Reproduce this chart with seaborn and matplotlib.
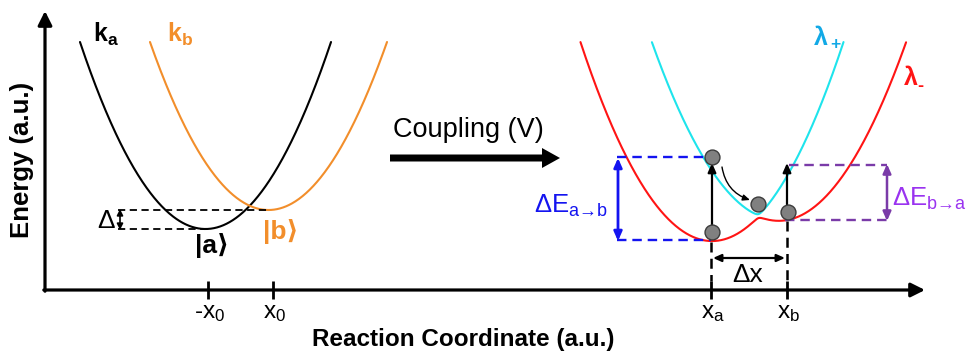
import numpy as np
import pandas as pd
import matplotlib
matplotlib.use("Agg")
import matplotlib.pyplot as plt
import seaborn as sns

# ---------------- data (canvas units, y grows downward = lower energy) ----------------
# left panel: diabatic parabolas k_a and k_b  (centre x, minimum y, curvature)
left_names = ["k_a", "k_b"]
left_centres = [205.5, 268.5]
left_minima = [229.0, 210.0]
left_curv = [0.01187, 0.01196]

# right panel: diabatic parabolas used to build the coupled curves lambda-/lambda+
right_centres = [712.0, 779.0]
right_minima = [241.0, 220.7]
right_curv = [0.0115, 0.01105]
coupling_V = [2.0]
curve_top = [42.0]

# tick positions and labels on the reaction coordinate
tick_pos = [208, 273, 711, 787]
tick_labels = ["-$\\mathregular{x_0}$", "$\\mathregular{x_0}$",
               "$\\mathregular{x_a}$", "$\\mathregular{x_b}$"]

# grey population dots
dot_x = [712, 712, 758, 788]
dot_y = [232, 157, 204, 212]

# ---------------- style ----------------
sns.set_theme(style="white")
plt.rcParams["font.family"] = ["Liberation Sans", "DejaVu Sans"]
plt.rcParams["text.color"] = "black"
plt.rcParams["mathtext.fontset"] = "custom"
plt.rcParams["mathtext.rm"] = "Liberation Sans"
plt.rcParams["mathtext.it"] = "Liberation Sans:italic"
plt.rcParams["mathtext.bf"] = "Liberation Sans:bold"

ORANGE = "#F28E2B"
CYAN = "#1EE4EC"
CYAN_TXT = "#12A9E6"
RED = "#FF1414"
BLUE = "#1414F0"
PURPLE = "#7A3BA8"
PURPLE_TXT = "#9A33F0"

fig = plt.figure(figsize=(9.67, 3.52), dpi=100)
ax = fig.add_axes([0, 0, 1, 1])
ax.set_xlim(0, 967)
ax.set_ylim(352, 0)
ax.axis("off")

top = curve_top[0]

# ---------------- left panel parabolas ----------------
frames = []
for name, c, m, k in zip(left_names, left_centres, left_minima, left_curv):
    half = np.sqrt((m - top) / k)
    xs = np.linspace(c - half, c + half, 400)
    frames.append(pd.DataFrame({"x": xs, "y": m - k * (xs - c) ** 2, "curve": name}))

# ---------------- right panel coupled curves ----------------
xg = np.linspace(560, 930, 3000)
ya = right_minima[0] - right_curv[0] * (xg - right_centres[0]) ** 2
yb = right_minima[1] - right_curv[1] * (xg - right_centres[1]) ** 2
avg = (ya + yb) / 2
root = np.sqrt(((ya - yb) / 2) ** 2 + coupling_V[0] ** 2)
lam_minus = avg + root   # lower energy (larger canvas y)
lam_plus = avg - root
for name, yy in [("lambda-", lam_minus), ("lambda+", lam_plus)]:
    keep = yy >= top
    frames.append(pd.DataFrame({"x": xg[keep], "y": yy[keep], "curve": name}))

df = pd.concat(frames, ignore_index=True)
palette = {"k_a": "black", "k_b": ORANGE, "lambda-": RED, "lambda+": CYAN}
sns.lineplot(data=df, x="x", y="y", hue="curve", palette=palette, sort=False,
             estimator=None, units="curve", lw=1.5, legend=False, ax=ax)

# ---------------- axes with arrows ----------------
AX_LW = 2.3
ax.annotate("", xy=(45, 11), xytext=(45, 291.2),
            arrowprops=dict(arrowstyle="-|>,head_length=0.7,head_width=0.35",
                            lw=AX_LW, color="black", shrinkA=0, shrinkB=0))
ax.annotate("", xy=(925, 290), xytext=(43.8, 290),
            arrowprops=dict(arrowstyle="-|>,head_length=0.7,head_width=0.35",
                            lw=AX_LW, color="black", shrinkA=0, shrinkB=0))
for tx, tl in zip(tick_pos, tick_labels):
    ax.plot([tx, tx], [281, 299], color="black", lw=2.0, solid_capstyle="butt")
    ax.text(tx + 2, 318, tl, fontsize=17.5, ha="center", va="baseline", color="black")

ax.text(22, 160, "Energy (a.u.)", rotation=90, fontsize=18.5, fontweight="bold",
        ha="center", va="center")
ax.text(463, 346, "Reaction Coordinate (a.u.)", fontsize=17.5, fontweight="bold",
        ha="center", va="baseline")

# ---------------- left panel annotations ----------------
dash = dict(color="black", lw=1.3, ls=(0, (4, 2.5)))
ax.plot([118, 269], [210, 210], **dash)
ax.plot([118, 207], [229, 229], **dash)
ax.annotate("", xy=(120, 209), xytext=(120, 230),
            arrowprops=dict(arrowstyle="<|-|>,head_length=0.3,head_width=0.15",
                            lw=1.2, color="black", shrinkA=0, shrinkB=0))
ax.text(106, 221, "Δ", fontsize=19, ha="center", va="center")
ax.text(93, 42, "$\\mathbf{k_a}$", fontsize=18, ha="left", va="baseline", color="black")
ax.text(167, 42, "$\\mathbf{k_b}$", fontsize=18, ha="left", va="baseline", color=ORANGE)
ax.text(212, 246, "|a⟩", fontsize=19, fontweight="bold", ha="center", va="center",
        color="black")
ax.text(281, 231, "|b⟩", fontsize=19, fontweight="bold", ha="center", va="center",
        color=ORANGE)

# ---------------- coupling arrow ----------------
ax.text(393, 137, "Coupling (V)", fontsize=19.5, ha="left", va="baseline")
ax.arrow(390, 158, 152, 0, width=7, head_width=20, head_length=18,
         length_includes_head=False, color="black", lw=0)

# ---------------- right panel annotations ----------------
# blue dashed box + arrow
bdash = dict(color=BLUE, lw=1.7, ls=(0, (4, 2.5)))
ax.plot([617, 705], [157, 157], **bdash)
ax.plot([617, 711], [240, 240], **bdash)
ax.annotate("", xy=(618, 158), xytext=(618, 241),
            arrowprops=dict(arrowstyle="<|-|>,head_length=0.45,head_width=0.2",
                            lw=2.0, color=BLUE, shrinkA=0, shrinkB=0))
ax.text(534, 213, "$\\mathregular{ΔE_{a→b}}$", fontsize=18.5, color=BLUE,
        ha="left", va="baseline")

# purple dashed box + arrow
pdash = dict(color=PURPLE, lw=1.7, ls=(0, (4, 2.5)))
ax.plot([789, 887], [165, 165], **pdash)
ax.plot([785, 887], [220, 220], **pdash)
ax.annotate("", xy=(887, 164), xytext=(887, 221),
            arrowprops=dict(arrowstyle="<|-|>,head_length=0.45,head_width=0.2",
                            lw=1.8, color=PURPLE, shrinkA=0, shrinkB=0))
ax.text(892, 206, "$\\mathregular{ΔE_{b→a}}$", fontsize=18.5, color=PURPLE_TXT,
        ha="left", va="baseline")

# black vertical dashed lines and delta x
ax.plot([711, 711], [242, 281], **dict(dash, lw=1.8))
ax.plot([787, 787], [221, 281], **dict(dash, lw=1.8))
ax.annotate("", xy=(713, 258), xytext=(785, 258),
            arrowprops=dict(arrowstyle="<|-|>,head_length=0.4,head_width=0.18",
                            lw=1.6, color="black", shrinkA=0, shrinkB=0))
ax.text(748, 282, "Δx", fontsize=19, ha="center", va="baseline")

# excitation arrows
for x0, y0, y1 in [(712, 226, 163), (787, 206, 163)]:
    ax.annotate("", xy=(x0, y1), xytext=(x0, y0),
                arrowprops=dict(arrowstyle="-|>,head_length=0.45,head_width=0.2",
                                lw=1.6, color="black", shrinkA=0, shrinkB=0))
ax.annotate("", xy=(750, 200), xytext=(722, 167),
            arrowprops=dict(arrowstyle="-|>,head_length=0.35,head_width=0.15",
                            lw=1.0, color="black", shrinkA=0, shrinkB=0,
                            connectionstyle="arc3,rad=0.3"))

# population dots
sns.scatterplot(x=dot_x, y=dot_y, s=115, color="#808080", edgecolor="#3C3C3C",
                linewidth=1.0, zorder=5, ax=ax, legend=False)

# curve labels
ax.text(813, 45, "$\\mathbf{λ_+}$", fontsize=18, color=CYAN_TXT, ha="left", va="baseline")
ax.text(904, 85, "λ", fontsize=18, fontweight="bold", color=RED, ha="left", va="baseline")
ax.text(917, 91, "-", fontsize=13, fontweight="bold", color=RED, ha="left", va="baseline")

fig.savefig("out.png", dpi=100)
